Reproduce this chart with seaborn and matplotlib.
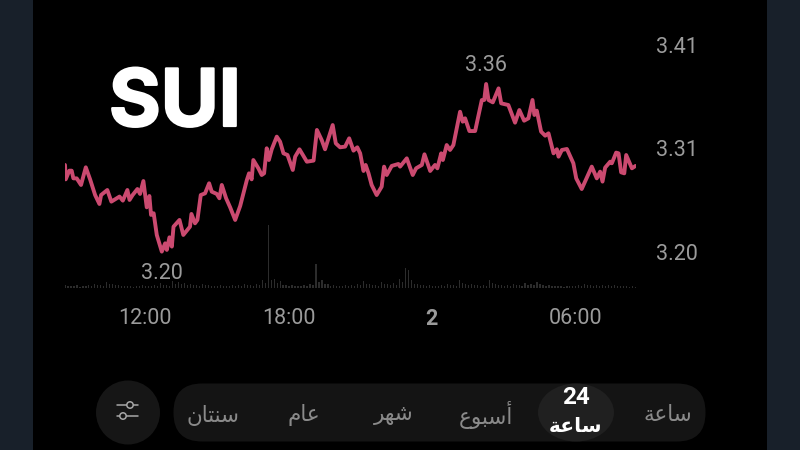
import numpy as np
import pandas as pd
import matplotlib
matplotlib.use("Agg")
import matplotlib.pyplot as plt
import matplotlib.patheffects as pe
from matplotlib.patches import FancyBboxPatch, Ellipse, Circle, Rectangle
import seaborn as sns

hours = [8.65,8.68,8.83,8.93,9.00,9.14,9.32,9.52,9.70,9.91,10.09,10.16,10.42,10.59,10.93,11.07,11.26,11.35,11.48,11.68,
 11.79,11.93,12.07,12.18,12.25,12.36,12.49,12.70,12.84,12.91,13.02,13.12,13.19,13.44,13.60,13.88,13.94,14.09,14.19,14.33,
 14.51,14.68,14.79,15.00,15.11,15.21,15.39,15.56,15.77,15.98,16.26,16.35,16.46,16.53,16.74,16.88,16.98,17.09,17.18,17.30,
 17.51,17.65,17.79,17.96,18.18,18.28,18.46,18.77,19.05,19.19,19.39,19.53,19.74,19.85,19.98,
 20.16,20.37,20.54,20.72,20.88,21.00,21.14,21.23,21.35,21.48,21.69,21.90,22.00,22.11,22.32,22.60,22.67,22.95,23.20,23.34,
 23.58,23.69,23.93,24.13,24.23,24.39,24.46,24.62,24.76,24.90,25.18,25.29,25.39,25.57,25.81,26.09,26.19,26.27,26.37,26.55,
 26.79,26.90,27.20,27.48,27.66,27.86,28.04,28.21,28.29,28.39,28.57,28.74,28.88,29.09,29.23,29.30,29.44,29.65,29.92,30.04,
 30.27,30.69,30.90,31.04,31.14,31.25,31.46,31.53,31.71,31.81,31.92,32.05,32.13,32.37,32.52]
prices = [3.2883,3.2737,3.2825,3.2825,3.2747,3.2747,3.2680,3.2859,3.2737,3.2578,3.2487,3.2578,3.2629,3.2511,3.2562,3.2521,3.2629,3.2528,3.2578,3.2639,
 3.2589,3.2720,3.2453,3.2568,3.2376,3.2393,3.2173,3.2004,3.2088,3.2021,3.2149,3.2055,3.2257,3.2325,3.2173,3.2257,3.2386,3.2291,3.2325,3.2578,
 3.2595,3.2697,3.2612,3.2589,3.2545,3.2680,3.2545,3.2453,3.2325,3.2467,3.2731,3.2798,3.2737,3.2933,3.2849,3.2781,3.2798,3.3052,3.2933,3.3042,
 3.3170,3.3119,3.3001,3.2984,3.2832,3.2967,3.3042,3.2916,3.2927,3.3238,3.3136,3.3042,3.3204,3.3288,3.3102,
 3.3062,3.3069,3.3153,3.3028,3.3062,3.3001,3.2822,3.2883,3.2798,3.2680,3.2578,3.2663,3.2866,3.2781,3.2873,3.2893,3.2866,3.2950,3.2781,3.2849,
 3.2883,3.2991,3.2822,3.2883,3.2849,3.3001,3.2933,3.3085,3.3035,3.3085,3.3423,3.3322,3.3356,3.3227,3.3227,3.3542,3.3542,3.3704,3.3542,3.3518,
 3.3660,3.3508,3.3491,3.3312,3.3440,3.3332,3.3356,3.3542,3.3390,3.3434,3.3221,3.3180,3.3204,3.3001,3.3042,3.2967,3.3035,3.3045,3.2900,3.2747,
 3.2639,3.2866,3.2747,3.2815,3.2714,3.2856,3.2916,3.2900,3.3008,3.3001,3.2808,3.2798,3.2984,3.2849,3.2873]

volumes = [3,2,3,2,3,4,3,6,4,3,2,2,2,3,2,3,5,3,7,6,5,4,3,4,3,2,3,2,3,3,4,3,4,8,63,9,7,3,3,2,3,4,24,8,4,3,2,3,3,4,
 7,4,3,6,4,5,9,20,8,4,3,3,2,3,4,3,8,4,4,3,3,8,4,3,3,4,3,5,4,6,3,3,2,2,2,2,3,4,3,3,3,3,3,2,2,2]
volumes_minor = [2,2,1,2,2,3,2,4,3,2,2,1,2,2,2,2,3,2,4,4,3,3,2,3,2,2,2,2,2,2,3,2,3,5,8,5,3,2,2,2,2,3,6,4,2,2,2,2,2,3,
 4,3,2,4,3,3,6,18,4,3,2,2,2,2,3,2,5,3,3,2,2,5,3,2,2,3,2,3,3,4,2,2,2,1,2,2,2,3,2,2,2,2,2,2,1,1]

y_ticks = [3.20, 3.3055, 3.41]
y_labels = ["3.20", "3.31", "3.41"]
x_ticks = [12, 18, 24, 30]
x_labels = ["12:00", "18:00", "2", "06:00"]
high_label, low_label = "3.36", "3.20"
title = "SUI"
# Arabic written as shaped presentation forms in visual order (matplotlib does not shape)
tabs = {"\uFEE5\uFE8E\uFE98\uFEE8\uFEB3": 213, "\uFEE1\uFE8E\uFECB": 304, "\uFEAE\uFEEC\uFEB7": 394,
        "\uFEC9\uFEEE\uFE92\uFEB3\uFE83": 486, "\uFE94\uFECB\uFE8E\uFEB3": 668}
active_top, active_bottom = "24", "\uFE94\uFECB\uFE8E\uFEB3"

LINE = "#cb4a70"; GREY = "#9b9b9b"; SIDE = "#18202a"
sns.set_theme(style="dark", rc={"figure.facecolor": "black", "axes.facecolor": "black", "savefig.facecolor": "black"})
plt.rcParams["font.family"] = ["Roboto", "DejaVu Sans"]

fig = plt.figure(figsize=(8, 4.5), dpi=100)

# page chrome in pixel coordinates
bg = fig.add_axes([0, 0, 1, 1], zorder=0)
bg.set_xlim(0, 800); bg.set_ylim(450, 0); bg.axis("off")
bg.add_patch(Rectangle((0, 0), 33, 450, color=SIDE, lw=0))
bg.add_patch(Rectangle((767, 0), 33, 450, color=SIDE, lw=0))
bg.add_patch(FancyBboxPatch((174 + 28, 384 + 28), 531 - 56, 1, boxstyle="round,pad=28.5,rounding_size=28.5", color="#141414", lw=0))
bg.add_patch(Circle((128, 412.5), 32, color="#161616", lw=0))
bg.add_patch(Ellipse((576, 412.5), 76, 58, color="#202020", lw=0))
for yy, cx in [(405, 130), (416, 123)]:
    bg.plot([117, 138], [yy, yy], color="#a8a8a8", lw=1.1, zorder=2)
    bg.add_patch(Circle((cx, yy), 3.2, fc="#161616", ec="#a8a8a8", lw=1.1, zorder=3))
for label, cx in tabs.items():
    bg.text(cx, 415, label, color="#8a8a8a", fontsize=15.5, ha="center", va="center", family="DejaVu Sans")
bg.text(576, 398, active_top, color="white", fontsize=17.5, fontweight="bold", ha="center", va="center", family="Roboto")
bg.text(576, 427, active_bottom, color="white", fontsize=14.5, fontweight="bold", ha="center", va="center", family="DejaVu Sans")
bg.text(175, 126, title, color="white", fontsize=57, fontweight="bold", ha="center", va="baseline", family="Inter",
        path_effects=[pe.withStroke(linewidth=1.6, foreground="white")])

# chart
ax = fig.add_axes([65 / 800, 1 - 300 / 450, 570.5 / 800, 270 / 450], zorder=2)
ax.patch.set_alpha(0)
vol_ax = ax.twinx()
vol_hours = np.arange(len(volumes)) * 0.25 + 8.65
vol_ax.bar(vol_hours, volumes, width=0.05, color="#2c2c2c", lw=0)
vol_ax.bar(vol_hours + 0.125, volumes_minor, width=0.05, color="#2c2c2c", lw=0)
vol_ax.set_ylim(-12, 258)
vol_ax.set_yticks([]); vol_ax.grid(False)

frame = pd.DataFrame({"hour": hours, "price": prices})
sns.lineplot(data=frame, x="hour", y="price", sort=False, errorbar=None, color=LINE, lw=2.8, ax=ax,
             solid_joinstyle="round", zorder=5)
ax.set_zorder(3); vol_ax.set_zorder(2)
ax.set_xlim(8.65, 32.52)
ax.set_ylim(3.1513, 3.4252)
ax.set_xlabel(""); ax.set_ylabel("")
ax.grid(False)
for s in list(ax.spines.values()) + list(vol_ax.spines.values()):
    s.set_visible(False)
ax.set_xticks(x_ticks, x_labels)
ax.set_yticks(y_ticks, y_labels)
ax.yaxis.tick_right()
ax.tick_params(axis="x", length=0, pad=6, labelsize=15.5, labelcolor=GREY)
ax.tick_params(axis="y", length=0, pad=15, labelsize=15.5, labelcolor=GREY)
ax.get_xticklabels()[2].set_fontweight("bold")

ax.annotate(high_label, (hours[int(np.argmax(prices))], max(prices)), xytext=(0, 6), textcoords="offset points",
            ha="center", va="bottom", color=GREY, fontsize=15.5)
ax.annotate(low_label, (hours[int(np.argmin(prices))], min(prices)), xytext=(0, -8), textcoords="offset points",
            ha="center", va="top", color=GREY, fontsize=15.5)

fig.savefig("out.png", dpi=100)
